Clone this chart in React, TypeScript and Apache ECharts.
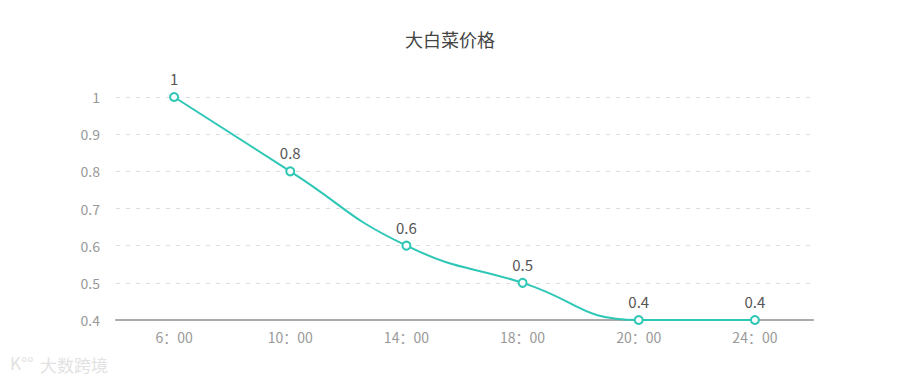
import React, { useEffect, useRef } from "react";
import * as echarts from "echarts";

const categories = ["6：00", "10：00", "14：00", "18：00", "20：00", "24：00"];
const prices = [1, 0.8, 0.6, 0.5, 0.4, 0.4];

export default function App() {
  const ref = useRef<HTMLDivElement>(null);
  useEffect(() => {
    if (!ref.current) return;
    const chart = echarts.init(ref.current, undefined, { renderer: "svg" });
    const font = "'Noto Sans CJK SC', 'Microsoft YaHei', sans-serif";
    chart.setOption({
      animation: false,
      textStyle: { fontFamily: font },
      title: {
        text: "大白菜价格",
        left: "center",
        top: 25,
        textStyle: { fontSize: 18, fontWeight: "normal", color: "#444", fontFamily: font },
      },
      grid: { left: 116, right: 87, top: 97, bottom: 63 },
      xAxis: {
        type: "category",
        data: categories,
        boundaryGap: true,
        axisLine: { lineStyle: { color: "#aaa", width: 2 } },
        axisTick: { show: false },
        axisLabel: { color: "#999", fontSize: 14, margin: 10, fontFamily: font },
      },
      yAxis: {
        type: "value",
        min: 0.4,
        max: 1,
        interval: 0.1,
        axisLine: { show: false },
        axisTick: { show: false },
        axisLabel: { color: "#999", fontSize: 14, margin: 16, fontFamily: font },
        splitLine: { lineStyle: { type: [4, 6], color: "#ddd" } },
      },
      graphic: [
        {
          type: "text",
          left: 40,
          top: 356,
          style: { text: "大数跨境", fill: "#e2e2e2", fontSize: 17, fontFamily: font },
        },
        {
          type: "text",
          left: 10,
          top: 354,
          style: { text: "K°°", fill: "#e2e2e2", fontSize: 17, fontFamily: font },
        },
      ],
      series: [
        {
          type: "line",
          data: prices,
          smooth: true,
          symbol: "emptyCircle",
          symbolSize: 8,
          lineStyle: { color: "#2ec7b6", width: 2 },
          itemStyle: { color: "#2ec7b6", borderWidth: 2 },
          label: { show: true, position: "top", color: "#555", fontSize: 15, distance: 6, fontFamily: font },
        },
      ],
    });
    return () => chart.dispose();
  }, []);
  return <div ref={ref} style={{ width: 900, height: 383, position: "absolute", left: 0, top: 0 }} />;
}
